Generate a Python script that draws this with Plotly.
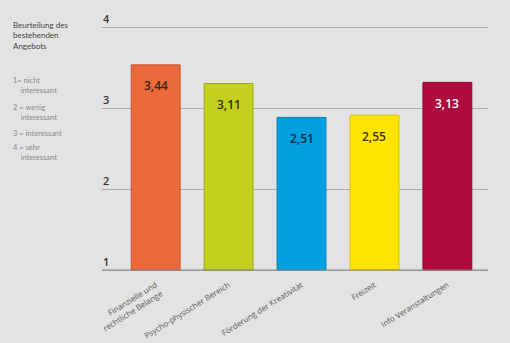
import plotly.graph_objects as go

categories = ["Finanzielle und<br>rechtliche Belange", "Psycho-physischer Bereich",
              "Förderung der Kreativität", "Freizeit", "Info Veranstaltungen"]
values = [3.44, 3.11, 2.51, 2.55, 3.13]
value_labels = ["3,44", "3,11", "2,51", "2,55", "3,13"]
bar_colors = ["#EC693B", "#C4CF1F", "#00A0E0", "#FFE400", "#B10B40"]
edge_colors = ["#C9522A", "#9FA815", "#0081B8", "#D9C000", "#8E0632"]
label_colors = ["#3A2418", "#2E3008", "#0E2A3A", "#3A3300", "#FFFFFF"]
tick_vals = [1, 2, 3, 4]
header_text = "Beurteilung des<br>bestehenden<br>Angebots"
legend_items = ["1= nicht<br>&nbsp;&nbsp;&nbsp;&nbsp;interessant",
                "2 = wenig<br>&nbsp;&nbsp;&nbsp;&nbsp;interessant",
                "3 = interessant",
                "4 = sehr<br>&nbsp;&nbsp;&nbsp;&nbsp;interessant"]

FONT = "Open Sans"
SIDE_FONT = "Lato"
W, H = 510, 343
# pixel layout
PX_TOP, PX_BOT = 27, 270      # pixel rows of y=4 and y=1
PAD = 2                       # extra px so edge gridlines are drawn
L, R = 102, 22
T, B = PX_TOP - PAD, H - PX_BOT - PAD
pw, ph = W - L - R, H - T - B

# axis ranges (visible scale 1..4; bars drawn on their own hidden scale)
Y1_BOT, Y1_TOP = 1, 4
Y2_BOT, Y2_TOP = -0.19, 4.11
def ext(lo, hi):
    per = (hi - lo) / (PX_BOT - PX_TOP)
    return [lo - PAD * per, hi + PAD * per]

fig = go.Figure()
fig.add_trace(go.Bar(
    x=list(range(len(categories))), y=[v - Y2_BOT for v in values], base=Y2_BOT,
    yaxis="y2",
    marker=dict(color=bar_colors, line=dict(color=edge_colors, width=1)),
    width=0.67, hoverinfo="skip",
))

for i, (v, t, c) in enumerate(zip(values, value_labels, label_colors)):
    fig.add_annotation(x=i, y=v, yref="y2", text=t, showarrow=False,
                       yanchor="middle", yshift=-21,
                       font=dict(family=FONT, size=12, color=c, weight=600))

for tv in tick_vals:
    fig.add_annotation(x=0, xref="paper", y=tv, yref="y", text=str(tv),
                       showarrow=False, xanchor="left", yanchor="bottom",
                       xshift=-1, yshift=-1,
                       font=dict(family=FONT, size=11, color="#333333", weight=600))

def px2paper(px, py):
    return (px - L) / pw, 1 - (py - T) / ph

hx, hy = px2paper(11, 18)
fig.add_annotation(x=hx, y=hy, xref="paper", yref="paper", text=header_text,
                   showarrow=False, xanchor="left", yanchor="top", align="left",
                   font=dict(family=SIDE_FONT, size=8, color="#444444"))

leg_top = [74, 101, 127, 141]
for t, yy in zip(legend_items, leg_top):
    lx, ly = px2paper(11, yy)
    fig.add_annotation(x=lx, y=ly, xref="paper", yref="paper", text=t,
                       showarrow=False, xanchor="left", yanchor="top", align="left",
                       font=dict(family=SIDE_FONT, size=7.5, color="#8A8A8A"))

fig.update_layout(
    width=W, height=H,
    margin=dict(l=L, r=R, t=T, b=B, pad=0, autoexpand=False),
    paper_bgcolor="#E3E3E3", plot_bgcolor="#E3E3E3",
    showlegend=False,
    font=dict(family=FONT),
    xaxis=dict(range=[-0.736, 4.557], tickmode="array",
               tickvals=list(range(len(categories))), ticktext=categories,
               tickangle=-32, tickfont=dict(family=FONT, size=8, color="#555555"),
               ticklabelstandoff=6,
               showgrid=False, zeroline=False, showline=False, ticks="",
               automargin=False),
    yaxis=dict(range=ext(Y1_BOT, Y1_TOP), tickvals=tick_vals, showticklabels=False,
               showgrid=True, gridcolor="#ABABAB", gridwidth=1, zeroline=False,
               showline=False, ticks="", automargin=False),
    yaxis2=dict(range=ext(Y2_BOT, Y2_TOP), overlaying="y", visible=False),
)
fig.add_shape(type="line", xref="paper", yref="y", x0=0, x1=1, y0=1, y1=1,
              line=dict(color="#888888", width=1.2), layer="above")

fig.write_html("out.html")
